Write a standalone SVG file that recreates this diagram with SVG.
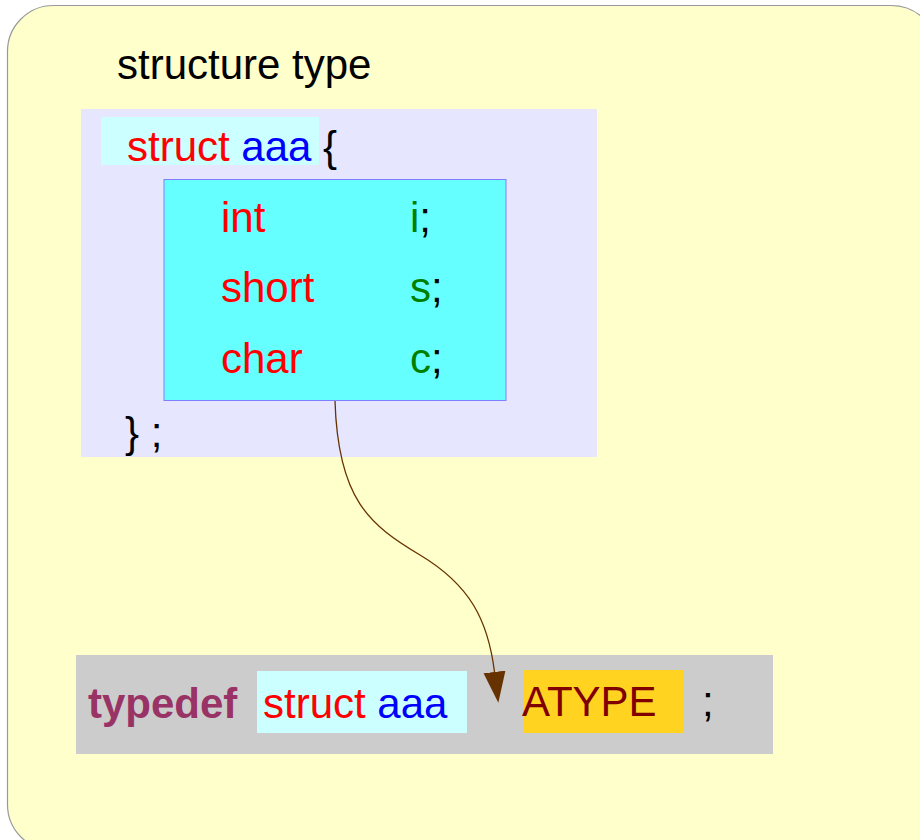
<svg xmlns="http://www.w3.org/2000/svg" width="920" height="840" viewBox="0 0 920 840">
  <style>
    text { font-family: "Liberation Sans", Arial, sans-serif; font-size: 42px; }
    .red { fill: #ff0000; }
    .blue { fill: #0000ff; }
    .green { fill: #008000; }
    .blk { fill: #000000; }
    .kw { fill: #993366; font-weight: bold; }
    .at { fill: #800000; }
  </style>
  <defs>
    <marker id="arrow" markerUnits="userSpaceOnUse" markerWidth="32" markerHeight="24" refX="0" refY="11" orient="auto">
      <path d="M0,0 L31,11 L0,22 Z" fill="#663300"/>
    </marker>
  </defs>
  <rect width="920" height="840" fill="#ffffff"/>
  <g id="frame">
    <rect x="7.5" y="5.5" width="930" height="845" rx="46" ry="46" fill="#ffffcc" stroke="#999999" stroke-width="1.2"/>
    <text x="117" y="79" class="blk" font-size="42.5">structure type</text>
  </g>
  <g id="struct-block">
    <rect x="81" y="109" width="516" height="348" fill="#e6e6ff"/>
    <rect x="101" y="117" width="218" height="48" fill="#ccffff"/>
    <text x="127" y="161"><tspan class="red">struct</tspan> <tspan class="blue">aaa</tspan> <tspan class="blk">{</tspan></text>
    <text x="125" y="447" class="blk">} ;</text>
  </g>
  <g id="members">
    <rect x="164" y="179.5" width="342" height="221" fill="#66ffff" stroke="#7f7fff" stroke-width="1"/>
    <text x="221" y="232" class="red">int</text>
    <text x="410" y="232"><tspan class="green">i</tspan><tspan class="blk">;</tspan></text>
    <text x="221" y="302" class="red">short</text>
    <text x="410" y="302"><tspan class="green">s</tspan><tspan class="blk">;</tspan></text>
    <text x="221" y="373" class="red">char</text>
    <text x="410" y="373"><tspan class="green">c</tspan><tspan class="blk">;</tspan></text>
  </g>
  <g id="typedef-line">
    <rect x="76" y="655" width="697" height="99" fill="#cccccc"/>
    <rect x="257" y="671" width="210" height="62" fill="#ccffff"/>
    <rect x="524" y="670" width="160" height="63" fill="#ffd320"/>
    <text x="88" y="718" class="kw" font-size="42.7">typedef</text>
    <text x="263" y="718" font-size="42.5"><tspan class="red">struct</tspan> <tspan class="blue">aaa</tspan></text>
    <text x="522" y="716" class="at" font-size="41">ATYPE</text>
    <text x="702" y="716" class="blk">;</text>
  </g>
  <g id="connectors">
    <path d="M335,401 C338,500 370,525 420,555 C470,585 488,620 494.5,672" fill="none" stroke="#663300" stroke-width="1.3" marker-end="url(#arrow)"/>
  </g>
</svg>
